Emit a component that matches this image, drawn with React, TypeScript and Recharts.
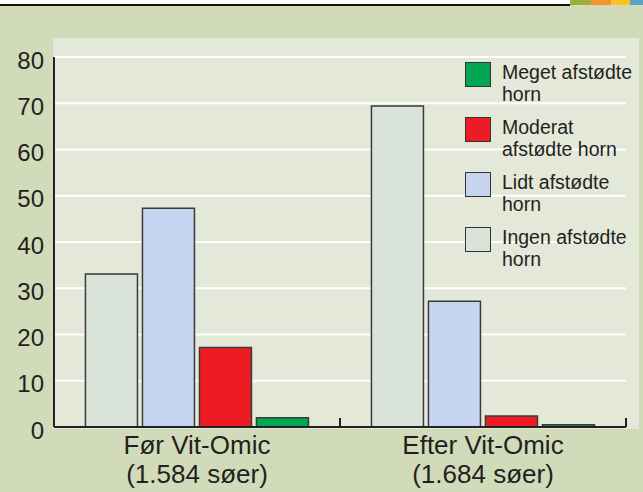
import { BarChart, Bar, XAxis, YAxis, CartesianGrid } from "recharts";

const groups = ["Før Vit-Omic", "Efter Vit-Omic"];
const herds = ["(1.584 søer)", "(1.684 søer)"];
const ingen = [33.1, 69.4];
const lidt = [47.3, 27.2];
const moderat = [17.2, 2.4];
const meget = [2.0, 0.5];
const yTicks = [0, 10, 20, 30, 40, 50, 60, 70, 80];

const SERIES = [
  { key: "ingen", lines: ["Ingen afstødte", "horn"], color: "#dae3d9" },
  { key: "lidt", lines: ["Lidt afstødte", "horn"], color: "#c6d5ef" },
  { key: "moderat", lines: ["Moderat", "afstødte horn"], color: "#ed1c24" },
  { key: "meget", lines: ["Meget afstødte", "horn"], color: "#00a651" },
];

const data = groups.map((g, i) => ({
  group: g,
  herd: herds[i],
  ingen: ingen[i],
  lidt: lidt[i],
  moderat: moderat[i],
  meget: meget[i],
}));

const FONT = "'Liberation Sans', Arial, sans-serif";
const INK = "#231f20";

function YTick(props: any) {
  const { x, y, payload } = props;
  return (
    <text x={x} y={y + 3} dy="0.355em" textAnchor="end" fill={INK} fontSize={24} fontFamily={FONT}>
      {payload.value}
    </text>
  );
}

function GroupTick(props: any) {
  const { x, y, index, payload } = props;
  const half = payload && payload.offset ? payload.offset : 143;
  return (
    <g>
      {/* inward tick at the right edge of each group */}
      <line x1={x + half} x2={x + half} y1={y} y2={y - 9} stroke="#222" strokeWidth={2} />
      <text x={x} y={y + 27} textAnchor="middle" fill={INK} fontSize={26} fontFamily={FONT}>
        {groups[index]}
      </text>
      <text x={x} y={y + 56} textAnchor="middle" fill={INK} fontSize={26} fontFamily={FONT}>
        {herds[index]}
      </text>
    </g>
  );
}

function HornLegend() {
  // legend lists the series top-down in reverse order
  const items = [...SERIES].reverse();
  return (
    <div style={{ position: "absolute", left: 465, top: 60.5, fontFamily: FONT }}>
      {items.map((s) => (
        <div key={s.key} style={{ display: "flex", alignItems: "flex-start", height: 55 }}>
          <div
            style={{
              width: 24,
              height: 23,
              marginTop: 1.5,
              background: s.color,
              border: "1.5px solid #333",
            }}
          />
          <div style={{ marginLeft: 11, fontSize: 19.5, lineHeight: "22px", color: INK }}>
            {s.lines.map((l) => (
              <div key={l}>{l}</div>
            ))}
          </div>
        </div>
      ))}
    </div>
  );
}

export default function App() {
  return (
    <div style={{ position: "relative", width: 643, height: 492, background: "#d1dbb9", overflow: "hidden" }}>
      <style>{`body{margin:0}`}</style>
      <div style={{ position: "absolute", left: 0, top: 0, width: 643, height: 4, background: "#fff" }} />
      <div style={{ position: "absolute", left: 0, top: 4, width: 570, height: 1.5, background: "#111" }} />
      <div style={{ position: "absolute", left: 570, top: 0, width: 21, height: 5, background: "#9bb03a" }} />
      <div style={{ position: "absolute", left: 591, top: 0, width: 20, height: 5, background: "#f39430" }} />
      <div style={{ position: "absolute", left: 611, top: 0, width: 19, height: 5, background: "#f7c325" }} />
      <div style={{ position: "absolute", left: 630, top: 0, width: 13, height: 5, background: "#5ba3c8" }} />
      <div style={{ position: "absolute", left: 53, top: 38, width: 586, height: 391, background: "#e4e8d8" }} />
      <div style={{ position: "absolute", left: 0, top: 0 }}>
        <BarChart
          width={643}
          height={492}
          data={data}
          margin={{ top: 57, right: 17, bottom: 0, left: 0 }}
          barCategoryGap="11%"
          barGap={5}
        >
          <CartesianGrid vertical={false} stroke="#ffffff" strokeWidth={2} />
          <XAxis
            dataKey="group"
            axisLine={{ stroke: "#222", strokeWidth: 2 }}
            tickLine={false}
            tickSize={0}
            tickMargin={0}
            height={65}
            interval={0}
            tick={<GroupTick />}
          />
          <YAxis
            width={54}
            domain={[0, 80]}
            ticks={yTicks}
            interval={0}
            tickLine={false}
            tickSize={6}
            tickMargin={4}
            axisLine={{ stroke: "#222", strokeWidth: 2 }}
            tick={<YTick />}
          />
          {SERIES.map((s) => (
            <Bar
              key={s.key}
              dataKey={s.key}
              fill={s.color}
              stroke="#3a3a3a"
              strokeWidth={1.5}
              isAnimationActive={false}
            />
          ))}
        </BarChart>
      </div>
      <HornLegend />
    </div>
  );
}
